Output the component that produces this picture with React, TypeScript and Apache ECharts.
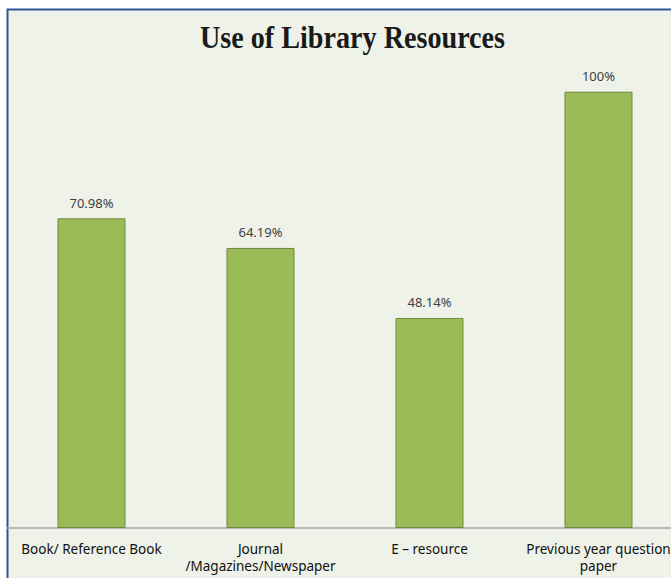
import React, { useEffect, useRef } from "react";
import * as echarts from "echarts";

const categories = [
  "Book/ Reference Book",
  "Journal\n/Magazines/Newspaper",
  "E – resource",
  "Previous year question\npaper",
];
const values = [70.98, 64.19, 48.14, 100];
const valueLabels = ["70.98%", "64.19%", "48.14%", "100%"];
const titleText = "Use of Library Resources";

export default function App() {
  const ref = useRef<HTMLDivElement>(null);
  useEffect(() => {
    if (!ref.current) return;
    const chart = echarts.init(ref.current, undefined, { renderer: "svg" });
    chart.setOption({
      animation: false,
      graphic: [
        {
          type: "rect",
          z: -10,
          silent: true,
          shape: { x: 7.5, y: 9.5, width: 760, height: 620 },
          style: { fill: "#EEF2E8", stroke: "#2F5597", lineWidth: 2 },
        },
        {
          type: "text",
          z: 10,
          x: 352.5,
          y: 37,
          scaleX: 0.88,
          style: {
            text: titleText,
            x: 0,
            y: 0,
            align: "center",
            verticalAlign: "middle",
            font: "bold 32px 'Liberation Serif', serif",
            fill: "#1a1a1a",
          },
        },
      ],
      grid: { left: 7, top: 91.7, height: 436.3, width: 676, containLabel: false },
      xAxis: {
        type: "category",
        data: categories,
        boundaryGap: true,
        axisLine: { show: true, lineStyle: { color: "#A6A6A6", width: 1.5 } },
        axisTick: { show: false },
        axisLabel: {
          interval: 0,
          margin: 12,
          fontFamily: "'Noto Sans', sans-serif",
          fontSize: 13.5,
          lineHeight: 17,
          color: "#111",
        },
        splitLine: { show: false },
      },
      yAxis: {
        type: "value",
        min: 0,
        max: 100,
        show: false,
        splitLine: { show: false },
      },
      series: [
        {
          type: "bar",
          data: values,
          barWidth: 68,
          itemStyle: { color: "#9BBB59", borderColor: "#71893F", borderWidth: 1 },
          label: {
            show: true,
            position: "top",
            distance: 9,
            fontFamily: "'Noto Sans', sans-serif",
            fontSize: 13,
            color: "#404040",
            formatter: (p: any) => valueLabels[p.dataIndex],
          },
        },
      ],
    });
    return () => chart.dispose();
  }, []);
  return (
    <div style={{ position: "absolute", left: 0, top: 0, width: 671, height: 578, overflow: "hidden", background: "#fff" }}>
      <div ref={ref} style={{ width: 720, height: 578 }} />
    </div>
  );
}
